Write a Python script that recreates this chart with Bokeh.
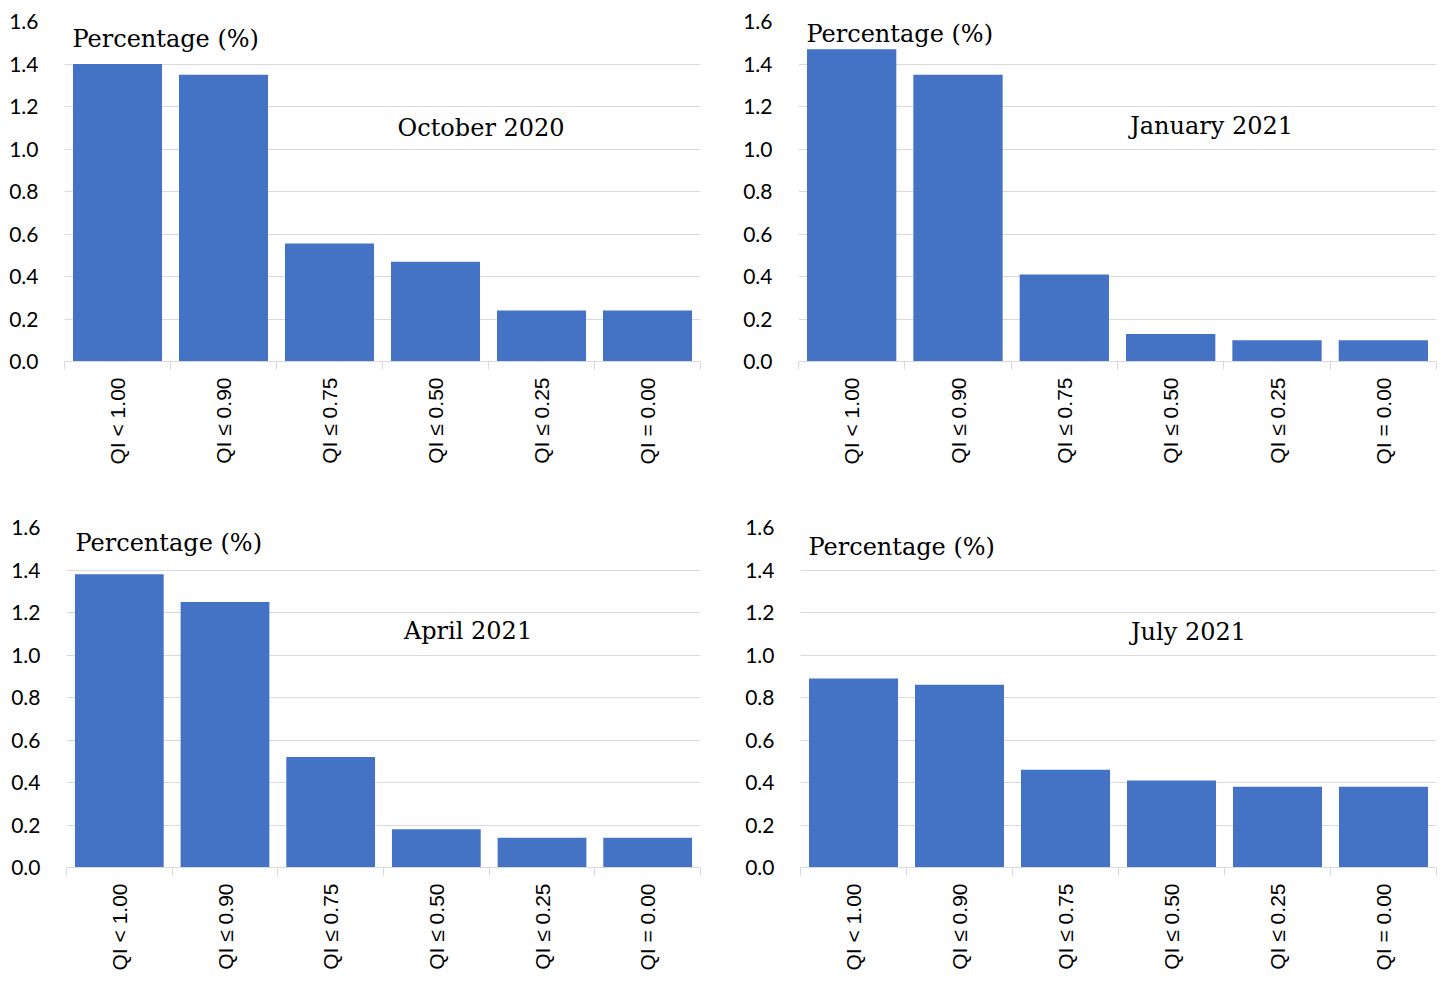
import math
from bokeh.plotting import figure
from bokeh.models import Range1d, FixedTicker, Label, NumeralTickFormatter
from bokeh.layouts import column, row
from bokeh.embed import file_html
from bokeh.resources import INLINE

categories = ["QI < 1.00", "QI ≤ 0.90", "QI ≤ 0.75", "QI ≤ 0.50", "QI ≤ 0.25", "QI = 0.00"]
oct_2020 = [1.40, 1.35, 0.555, 0.47, 0.24, 0.24]
jan_2021 = [1.47, 1.35, 0.41, 0.13, 0.10, 0.10]
apr_2021 = [1.38, 1.25, 0.52, 0.18, 0.14, 0.14]
jul_2021 = [0.89, 0.86, 0.46, 0.41, 0.38, 0.38]
titles = ["October 2020", "January 2021", "April 2021", "July 2021"]
y_ticks = [0.0, 0.2, 0.4, 0.6, 0.8, 1.0, 1.2, 1.4, 1.6]

BAR = "#4472C4"
GRID = "#d9d9d9"


def panel(values, title, width, height, mb_left, mb_right, mb_top, mb_bottom,
          pct_pos, title_pos):
    n = len(categories)
    p = figure(width=width, height=height, output_backend="svg", toolbar_location=None,
               x_range=Range1d(0, n), y_range=Range1d(0, 1.6),
               min_border_left=mb_left, min_border_right=mb_right,
               min_border_top=mb_top, min_border_bottom=mb_bottom)
    p.outline_line_color = None
    p.background_fill_color = "white"
    p.border_fill_color = "white"
    centers = [i + 0.5 for i in range(n)]
    p.vbar(x=centers, top=values, width=0.84, bottom=0, fill_color=BAR, line_color=None)

    # x axis
    xa = p.xaxis[0]
    xa.ticker = FixedTicker(ticks=centers, minor_ticks=list(range(n + 1)))
    xa.major_label_overrides = {c: lab for c, lab in zip(centers, categories)}
    xa.major_label_orientation = math.pi / 2
    xa.major_tick_out = 0
    xa.major_tick_in = 0
    xa.minor_tick_out = 8
    xa.minor_tick_in = 0
    xa.minor_tick_line_color = GRID
    xa.axis_line_color = GRID
    xa.major_label_standoff = 8
    xa.major_label_text_font = "Liberation Sans"
    xa.major_label_text_font_size = "21px"
    xa.major_label_text_color = "#000000"

    # y axis
    ya = p.yaxis[0]
    ya.ticker = FixedTicker(ticks=y_ticks)
    ya.formatter = NumeralTickFormatter(format="0.0")
    ya.axis_line_color = None
    ya.major_tick_line_color = None
    ya.minor_tick_line_color = None
    ya.major_label_standoff = 20
    ya.major_label_text_font = "Lato"
    ya.major_label_text_font_size = "21px"
    ya.major_label_text_color = "#000000"

    p.xgrid.grid_line_color = None
    p.ygrid.grid_line_color = GRID
    p.ygrid.grid_line_width = 1

    p.add_layout(Label(x=pct_pos[0], y=pct_pos[1], text="Percentage (%)",
                       text_font="DejaVu Serif", text_font_size="24px",
                       text_baseline="middle", text_align="left", text_color="#000000"))
    p.add_layout(Label(x=title_pos[0], y=title_pos[1], text=title,
                       text_font="DejaVu Serif", text_font_size="24px",
                       text_baseline="middle", text_align="center", text_color="#000000"))
    return p


p1 = panel(oct_2020, titles[0], 732, 503, 64, 32, 21, 140, (0.075, 1.52), (3.93, 1.10))
p2 = panel(jan_2021, titles[1], 708, 503, 66, 4, 20, 142, (0.075, 1.54), (3.885, 1.108))
p3 = panel(apr_2021, titles[2], 732, 472, 66, 32, 24, 108, (0.085, 1.525), (3.80, 1.115))
p4 = panel(jul_2021, titles[3], 708, 472, 68, 4, 24, 107, (0.075, 1.51), (3.66, 1.108))

layout = column(row(p1, p2), row(p3, p4))

with open("out.html", "w") as f:
    f.write(file_html(layout, INLINE))
